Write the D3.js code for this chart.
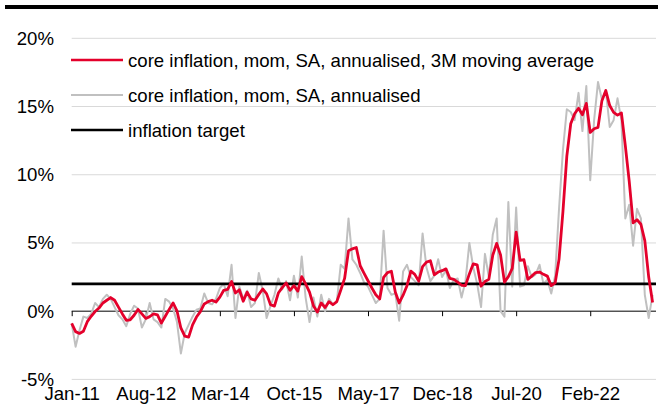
<!DOCTYPE html>
<html>
<head>
<meta charset="utf-8">
<script src="https://cdn.jsdelivr.net/npm/d3@7"></script>
<style>
  html, body { margin: 0; padding: 0; background: #fff; }
  svg { display: block; }
  text { font-family: "Liberation Sans", Arial, sans-serif; fill: #000; }
</style>
</head>
<body>
<div id="chart"></div>
<script>
// Monthly data, Jan-2011 .. Jun-2023 (150 months)

// core inflation, mom, SA, annualised (%)
const coreMom = [
  -0.9, -2.6, -1.4, -0.4, -0.5, -0.2, 0.6, 0.3, 0.9, 1.2,
   0.9,  0.3, -0.3, -0.6, -1.1, -0.2, 0.4, 0.2, -1.2, -0.6,
   0.6, -0.6, -0.8, -1.2,  0.9,  0.7, 0.2, -0.8, -3.1, -1.6,
  -1.0, -0.4,  0.1,  0.2,  1.3,  0.6, 0.5, 0.9, 1.7, 2.0,
   1.1,  3.4, -0.5,  1.8,  0.9,  1.5, 0.3, 0.6, 2.8, 1.5,
  -0.5,  0.4,  1.2,  2.4,  1.6,  2.2, 0.8, 2.6, 1.0, 4.0,
   1.0, -0.8,  1.0, -0.4,  1.2,  0.0, 0.9, 0.5, 0.7, 3.4,
   3.1,  6.8,  3.8,  3.4,  2.8,  2.1, 1.8, 1.2, 0.6, 0.9,
   5.9,  1.7,  1.2,  1.3, -0.7,  2.9, 3.4, 2.5, 2.2, 1.9,
   5.7,  3.2,  2.2,  2.6,  3.8,  2.5, 3.0, 1.7, 2.3, 2.4,
   1.0,  2.2,  5.0,  3.2,  2.0,  0.3, 4.2, 2.5, 5.6, 6.8,
   0.0, -0.4,  8.0,  1.8,  7.6,  1.8, 1.9, 3.3, 2.5, 2.7,
   3.4,  2.0,  2.3,  1.3,  2.6,  7.5, 11.8, 14.8, 14.6, 14.0,
  16.0, 13.2, 16.5,  9.6, 14.0, 16.8, 15.5, 16.2, 13.5, 14.0,
  15.6, 14.0,  6.8,  7.8,  4.8,  7.5, 6.8, 1.2, -0.5, 1.2
];

// core inflation, mom, SA, annualised, 3M moving average (%)
const core3m = [
  -0.9, -1.5, -1.63, -1.47, -0.77, -0.37, -0.03, 0.23, 0.6, 0.8,
   1.0,  0.8,  0.3, -0.2, -0.67, -0.63, -0.3, 0.13, -0.2, -0.53,
  -0.4, -0.2, -0.27, -0.87, -0.37, 0.13, 0.6, 0.03, -1.23, -1.83,
  -1.9, -1.0, -0.43, -0.03, 0.53, 0.7, 0.8, 0.67, 1.03, 1.53,
   1.6,  2.17, 1.33, 1.57, 0.73, 1.4, 0.9, 0.8, 1.23, 1.63,
   1.27, 0.47, 0.37, 1.33, 1.73, 2.07, 1.53, 1.87, 1.47, 2.53,
   2.0,  1.4,  0.4, -0.07, 0.6, 0.27, 0.7, 0.47, 0.7, 1.53,
   2.4,  4.43, 4.57, 4.67, 3.33, 2.77, 2.23, 1.7, 1.2, 0.9,
   2.47, 2.83, 2.93, 1.4, 0.6, 1.17, 1.87, 2.93, 2.7, 2.2,
   3.27, 3.6, 3.7, 2.67, 2.87, 2.97, 3.1, 2.4, 2.33, 2.13,
   1.9,  1.87, 2.73, 3.47, 3.4, 1.83, 2.17, 2.33, 4.1, 4.97,
   4.13, 2.13, 2.53, 3.13, 5.8, 3.73, 3.77, 2.33, 2.57, 2.83,
   2.87, 2.7, 2.57, 1.87, 2.07, 3.8, 7.3, 11.37, 13.73, 14.47,
  14.87, 14.4, 15.23, 13.1, 13.37, 13.47, 15.43, 16.17, 15.07, 14.57,
  14.37, 14.53, 12.13, 9.53, 6.47, 6.7, 6.37, 5.17, 2.5, 0.63
];

// inflation target (%)
const inflationTarget = 2;

// x axis tick labels (every 19 months) and their month indices
const xTickLabels = ["Jan-11", "Aug-12", "Mar-14", "Oct-15", "May-17", "Dec-18", "Jul-20", "Feb-22"];
const xTickIndex = [0, 19, 38, 57, 76, 95, 114, 133];

// y axis ticks
const yTicks = [-5, 0, 5, 10, 15, 20];

// legend labels
const legendLabels = [
  "core inflation, mom, SA, annualised, 3M moving average",
  "core inflation, mom, SA, annualised",
  "inflation target"
];

// ---------------------------------------------------------------
const W = 658, H = 412;
const colRed = "#e4002b", colGray = "#c0c0c0", colBlack = "#000";
const FS = 18.6;

const svg = d3.select("#chart").append("svg").attr("width", W).attr("height", H);

const x = d3.scaleLinear().domain([0, coreMom.length - 1]).range([71.7, 652.6]);
const y = d3.scaleLinear().domain([-5, 20]).range([379.4, 38.3]);
const plotLeft = 71.7, plotRight = 656;

// top black bar
svg.append("rect").attr("x", 5).attr("y", 5).attr("width", W - 5).attr("height", 4).attr("fill", "#000");

// gridlines
svg.append("g").selectAll("line").data(yTicks.filter(d => d !== 0)).join("line")
  .attr("x1", plotLeft).attr("x2", plotRight)
  .attr("y1", d => y(d)).attr("y2", d => y(d))
  .attr("stroke", "#d9d9d9").attr("stroke-width", 1);

// y labels
svg.append("g").selectAll("text").data(yTicks).join("text")
  .attr("x", 54).attr("y", d => y(d)).attr("dy", "0.35em")
  .attr("text-anchor", "end").attr("font-size", FS)
  .text(d => d + "%");

// x axis (ticks + labels)
const xAxis = d3.axisBottom(x)
  .tickValues(xTickIndex)
  .tickFormat((d, i) => xTickLabels[i])
  .tickSize(5).tickSizeOuter(0).tickPadding(2);
const gx = svg.append("g").attr("transform", `translate(0,${y(0)})`).call(xAxis);
gx.select(".domain").remove();
gx.selectAll(".tick line").attr("stroke", "#000").attr("stroke-width", 1);
gx.selectAll(".tick text")
  .attr("font-size", FS).attr("font-family", '"Liberation Sans", Arial, sans-serif')
  .attr("fill", "#000")
  .attr("y", 0).attr("dy", "0").attr("transform", `translate(0,${400 - y(0)})`);

// zero axis line
svg.append("line").attr("x1", plotLeft).attr("x2", plotRight)
  .attr("y1", y(0)).attr("y2", y(0)).attr("stroke", "#000").attr("stroke-width", 1);

const line = d3.line().x((d, i) => x(i)).y(d => y(d));

// gray raw series
svg.append("path").datum(coreMom).attr("d", line)
  .attr("fill", "none").attr("stroke", colGray).attr("stroke-width", 2)
  .attr("stroke-linejoin", "round");

// inflation target
svg.append("line").attr("x1", plotLeft).attr("x2", plotRight)
  .attr("y1", y(inflationTarget)).attr("y2", y(inflationTarget))
  .attr("stroke", colBlack).attr("stroke-width", 2.8);

// red 3M average
svg.append("path").datum(core3m).attr("d", line)
  .attr("fill", "none").attr("stroke", colRed).attr("stroke-width", 2.8)
  .attr("stroke-linejoin", "round");

// legend
const legendColors = [colRed, colGray, colBlack];
const legendWidths = [2.5, 2, 2.5];
const legendY = [60, 95, 130];
const lg = svg.append("g").selectAll("g").data(legendLabels).join("g")
  .attr("transform", (d, i) => `translate(0,${legendY[i]})`);
lg.append("line").attr("x1", 71).attr("x2", 123).attr("y1", 0).attr("y2", 0)
  .attr("stroke", (d, i) => legendColors[i]).attr("stroke-width", (d, i) => legendWidths[i]);
lg.append("text").attr("x", 128).attr("y", 0).attr("dy", "0.35em")
  .attr("font-size", FS).text(d => d);
</script>
</body>
</html>
